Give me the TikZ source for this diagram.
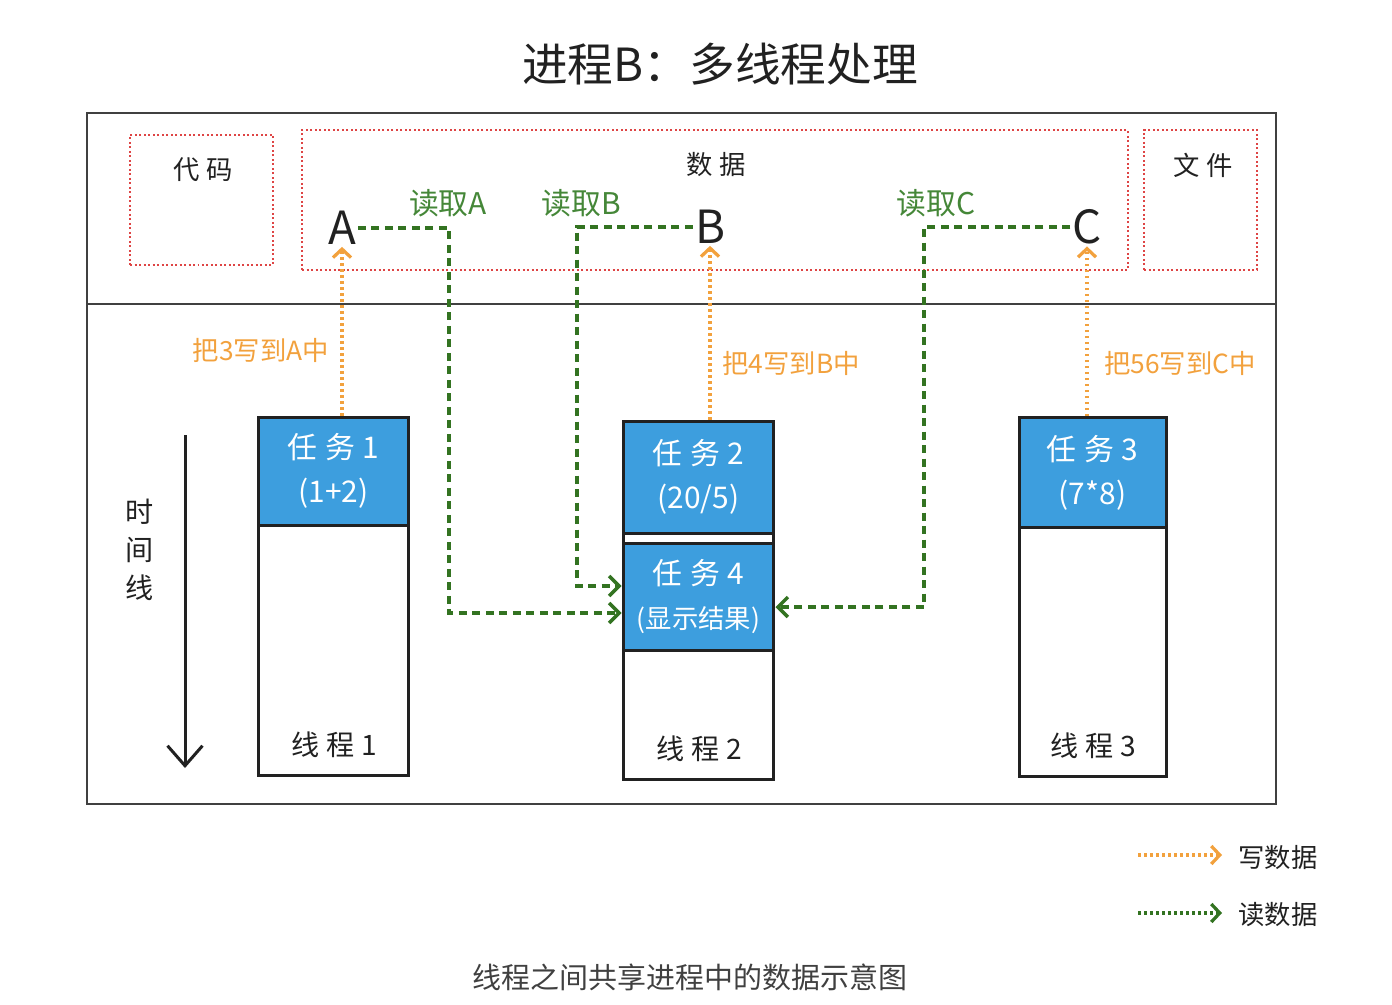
\documentclass[tikz,border=0pt]{standalone}
\usepackage{fontspec}
\setmainfont{Noto Sans CJK SC}
\newfontfamily\wide[LetterSpace=25]{Noto Sans CJK SC}
\definecolor{d00}{rgb}{0.13, 0.13, 0.13}
\definecolor{d01}{rgb}{0.24, 0.62, 0.87}
\definecolor{d02}{rgb}{0.95, 0.63, 0.24}
\definecolor{d03}{rgb}{0.20, 0.45, 0.13}
\definecolor{d04}{rgb}{0.87, 0.27, 0.27}
\definecolor{d05}{rgb}{0.25, 0.25, 0.25}
\definecolor{d06}{rgb}{0.27, 0.53, 0.22}
\usetikzlibrary{positioning}
\usetikzlibrary{arrows.meta}
\tikzstyle{frame} = [draw=d05, line width=.045cm]
\tikzstyle{zone} = [draw=d04, line width=.03cm,
    dash pattern=on .04cm off .05cm]
\tikzstyle{thread} = [draw=d00, line width=.06cm, fill=white,
    minimum width=3.02cm, minimum height=7.18cm]
\tikzstyle{task} = [draw=d00, line width=.06cm, fill=d01, text=white,
    align=center, minimum width=3.02cm,
    font=\fontsize{17}{25}\selectfont]
\tikzstyle{txt} = [font=\wide\fontsize{15}{18}\selectfont]
\tikzstyle{letter} = [font=\fontsize{26}{30}\selectfont, inner sep=1pt]
\tikzstyle{wrtxt} = [text=d02, font=\fontsize{15}{18}\selectfont]
\tikzstyle{rdtxt} = [text=d06, font=\fontsize{17}{20}\selectfont]
\tikzstyle{wrline} = [draw=d02, line width=.065cm,
    dash pattern=on .05cm off .07cm,
    -{Straight Barb[length=.17cm, width=.36cm]}]
\tikzstyle{rdline} = [draw=d03, line width=.07cm,
    dash pattern=on .16cm off .11cm,
    -{Straight Barb[length=.2cm, width=.4cm]}]
\tikzstyle{rdkey} = [draw=d03, line width=.065cm,
    dash pattern=on .05cm off .07cm,
    -{Straight Barb[length=.17cm, width=.36cm]}]
\tikzstyle{timeline} = [draw=d00, line width=.06cm,
    -{Straight Barb[length=.4cm, width=.7cm]}]

\begin{document}
\begin{tikzpicture}[x=.02cm, y=-.02cm, inner sep=1pt, text=d00]
     \useasboundingbox (0,0) rectangle (1392,1004);
     % ><>< =================== ><>< %
     % ><><   Frame and zones   ><>< %
     % ><>< =================== ><>< %
     \node (title) at (720,64) {\fontsize{26}{30}\selectfont 进程B：多线程处理};
     \draw [frame] (87,113) rectangle (1276,804);
     \draw [frame] (87,304) -- (1276,304);
     \node [zone, minimum width=2.86cm, minimum height=2.6cm] (code)
        at (201.5,200) {};
     \node [zone, minimum width=16.52cm, minimum height=2.8cm] (data)
        at (715,200) {};
     \node [zone, minimum width=2.26cm, minimum height=2.8cm] (file)
        at (1200.5,200) {};
     \node [txt] (codetxt) at (203,170) {代码};
     \node [txt] (datatxt) at (716,165) {数据};
     \node [txt] (filetxt) at (1203,165) {文件};
     \node [letter] (A) at (342,228) {A};
     \node [letter] (B) at (710,227) {B};
     \node [letter] (C) at (1087,227) {C};
     \node [rdtxt] (rdA) at (448,203) {读取A};
     \node [rdtxt] (rdB) at (581,203) {读取B};
     \node [rdtxt] (rdC) at (936,203) {读取C};
     % ><>< =================== ><>< %
     % ><><   Threads & tasks   ><>< %
     % ><>< =================== ><>< %
     \node [thread] (thr1) at (333.5,596.5) {};
     \node [thread] (thr2) at (698.5,600.5) {};
     \node [thread, minimum width=2.94cm] (thr3) at (1092.5,597) {};
     \node [task, anchor=north, minimum height=2.16cm] (task1)
        at (thr1.north) {{\wide 任务1}\\(1+2)};
     \node [task, anchor=north, minimum height=2.24cm] (task2)
        at (thr2.north) {{\wide 任务2}\\(20/5)};
     \node [task, below=.14cm of task2, minimum height=2.14cm] (task4)
        {{\wide 任务4}\\{\fontsize{15}{25}\selectfont(显示结果)}};
     \node [task, anchor=north, minimum height=2.2cm,
        minimum width=2.94cm] (task3)
        at (thr3.north) {{\wide 任务3}\\(7*8)};
     \node [txt, font=\wide\fontsize{16}{19}\selectfont] (name1)
        at (334,745) {线程1};
     \node [txt, font=\wide\fontsize{16}{19}\selectfont] (name2)
        at (699,749) {线程2};
     \node [txt, font=\wide\fontsize{16}{19}\selectfont] (name3)
        at (1093,746) {线程3};
     \node [align=center, font=\fontsize{16}{21.5}\selectfont] (time)
        at (140,550) {时\\间\\线};
     \coordinate (t0) at (185,435);
     \coordinate (t1) at (185,768);
     \node [wrtxt] (wrA) at (261,350) {把3写到A中};
     \node [wrtxt] (wrB) at (791,363) {把4写到B中};
     \node [wrtxt] (wrC) at (1180,363) {把56写到C中};
     \coordinate (inA) at ([yshift=-.33cm]task4.west);
     \coordinate (inB) at ([yshift=.21cm]task4.west);
     \coordinate (inC) at ([yshift=-.21cm]task4.east);
     % ><>< =================== ><>< %
     % ><><     Draw lines.     ><>< %
     % ><>< =================== ><>< %
     \path [timeline] (t0) -- (t1);
     \path [wrline] (A.south |- task1.north) -- (A.south);
     \path [wrline] (B.south |- task2.north) -- (B.south);
     \path [wrline] (C.south |- task3.north) -- (C.south);
     \path [rdline] (A.east) -| (449,420) |- (inA);
     \path [rdline] (B.west) -| (577,420) |- (inB);
     \path [rdline] (C.west) -| (924,420) |- (inC);
     % ><>< =================== ><>< %
     % ><><   Key and caption   ><>< %
     % ><>< =================== ><>< %
     \coordinate (wr0) at (1138,855);
     \coordinate (wr1) at (1222,855);
     \coordinate (rd0) at (1138,913);
     \coordinate (rd1) at (1222,913);
     \path [wrline] (wr0) -- (wr1);
     \path [rdkey] (rd0) -- (rd1);
     \node [font=\fontsize{15}{18}\selectfont] (wrkey) at (1278,857) {写数据};
     \node [font=\fontsize{15}{18}\selectfont] (rdkey) at (1278,915) {读数据};
     \node [text=d05, font=\fontsize{16.5}{20}\selectfont] (caption)
        at (690,977) {线程之间共享进程中的数据示意图};
\end{tikzpicture}
\end{document}
